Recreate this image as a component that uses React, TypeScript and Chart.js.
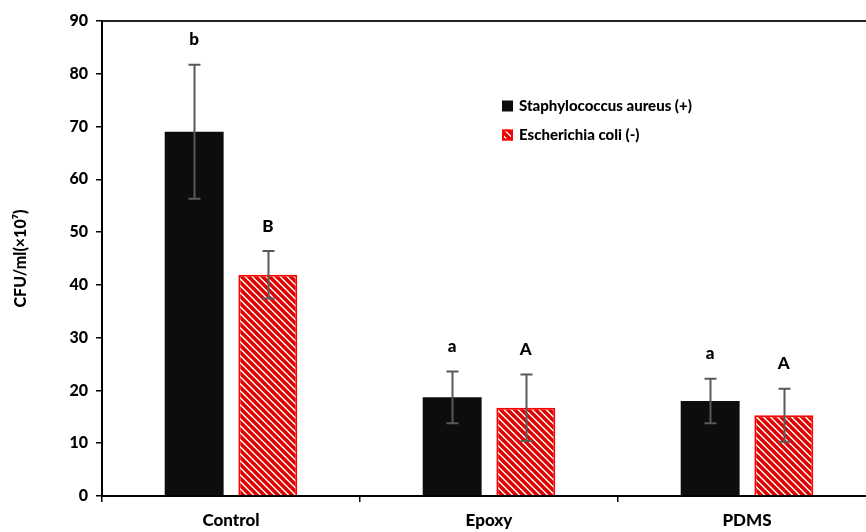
import React, { useEffect, useRef } from "react";
import { Chart, registerables } from "chart.js";

Chart.register(...registerables);

const categories = ["Control", "Epoxy", "PDMS"];
const seriesNames = ["Staphylococcus aureus (+)", "Escherichia coli (-)"];
const staphValues = [69.0, 18.7, 18.0];
const staphErrors = [12.7, 4.9, 4.2];
const coliValues = [41.9, 16.7, 15.3];
const coliErrors = [4.5, 6.3, 5.0];
const staphLetters = ["b", "a", "a"];
const coliLetters = ["B", "A", "A"];
const yMin = 0;
const yMax = 90;
const yStep = 10;
const yTitle = "CFU/ml(×10⁷)";

const FONT = "Lato, 'Open Sans', sans-serif";
const WEIGHT = "900";
const BLACK = "#0d0d0d";
const RED = "#ff0000";

function makeHatch(ctx: CanvasRenderingContext2D): CanvasPattern | string {
  const s = 7;
  const c = document.createElement("canvas");
  c.width = s;
  c.height = s;
  const g = c.getContext("2d");
  if (!g) return RED;
  g.fillStyle = "#ffffff";
  g.fillRect(0, 0, s, s);
  g.strokeStyle = "#e00000";
  g.lineWidth = 3.6;
  g.beginPath();
  for (let k = -1; k <= 1; k++) {
    g.moveTo(k * s - 1, -1);
    g.lineTo(k * s + s + 1, s + 1);
  }
  g.stroke();
  return ctx.createPattern(c, "repeat") || RED;
}

export default function App() {
  const ref = useRef<HTMLCanvasElement | null>(null);

  useEffect(() => {
    const canvas = ref.current;
    if (!canvas) return;
    const ctx = canvas.getContext("2d");
    if (!ctx) return;
    const hatch = makeHatch(ctx);
    const errors = [staphErrors, coliErrors];
    const letters = [staphLetters, coliLetters];

    const extras = {
      id: "extras",
      afterDatasetsDraw(chart: any) {
        const c = chart.ctx as CanvasRenderingContext2D;
        const ys = chart.scales.y;
        const area = chart.chartArea;
        c.save();
        // top border
        c.strokeStyle = "#222";
        c.lineWidth = 2;
        c.beginPath();
        c.moveTo(area.left, area.top);
        c.lineTo(area.right, area.top);
        c.stroke();
        chart.data.datasets.forEach((ds: any, di: number) => {
          const meta = chart.getDatasetMeta(di);
          meta.data.forEach((bar: any, i: number) => {
            const v = ds.data[i];
            const e = errors[di][i];
            const yT = ys.getPixelForValue(v + e);
            const yB = ys.getPixelForValue(v - e);
            const x = Math.round(bar.x) + 0.5;
            c.strokeStyle = "#595959";
            c.lineWidth = 2;
            c.beginPath();
            c.moveTo(x, yT);
            c.lineTo(x, yB);
            c.moveTo(x - 6, yT);
            c.lineTo(x + 6, yT);
            c.moveTo(x - 6, yB);
            c.lineTo(x + 6, yB);
            c.stroke();
            c.fillStyle = "#000";
            c.font = `${WEIGHT} 17px ${FONT}`;
            c.textAlign = "center";
            c.textBaseline = "middle";
            c.fillText(letters[di][i], bar.x, yT - 25);
          });
        });
        // legend
        const lx = area.left + 400;
        const ly = area.top + 85;
        const rowGap = 29;
        const box = 11;
        c.font = `${WEIGHT} 15px ${FONT}`;
        c.textAlign = "left";
        c.textBaseline = "middle";
        seriesNames.forEach((name, k) => {
          const yy = ly + k * rowGap;
          if (k === 0) {
            c.fillStyle = BLACK;
            c.fillRect(lx, yy - box / 2, box, box);
          } else {
            c.fillStyle = hatch as any;
            c.fillRect(lx, yy - box / 2, box, box);
            c.strokeStyle = RED;
            c.lineWidth = 2;
            c.strokeRect(lx + 1, yy - box / 2 + 1, box - 2, box - 2);
          }
          c.fillStyle = "#000";
          c.fillText(name, lx + box + 6, yy);
        });
        c.restore();
      },
    };

    const chart = new Chart(canvas, {
      type: "bar",
      data: {
        labels: categories,
        datasets: [
          {
            label: seriesNames[0],
            data: staphValues,
            backgroundColor: BLACK,
            borderWidth: 0,
            categoryPercentage: 0.571,
            barPercentage: 0.8,
          },
          {
            label: seriesNames[1],
            data: coliValues,
            backgroundColor: hatch as any,
            borderColor: RED,
            borderWidth: 2,
            categoryPercentage: 0.571,
            barPercentage: 0.8,
          },
        ],
      },
      options: {
        animation: false,
        responsive: false,
        devicePixelRatio: 1,
        layout: { padding: { top: 21, right: 0, left: 0, bottom: 0 } },
        plugins: {
          legend: { display: false },
          tooltip: { enabled: false },
        },
        scales: {
          x: {
            type: "category",
            offset: true,
            grid: {
              display: true,
              offset: true,
              drawOnChartArea: false,
              drawTicks: true,
              tickLength: 6,
              color: "#000",
              lineWidth: 1.5,
            },
            border: { display: true, color: "#000", width: 2 },
            ticks: {
              color: "#000",
              font: { family: FONT, size: 17, weight: WEIGHT as any },
              padding: 8,
            },
            afterFit(scale: any) {
              scale.height = 36;
            },
          },
          y: {
            min: yMin,
            max: yMax,
            ticks: {
              stepSize: yStep,
              color: "#000",
              font: { family: FONT, size: 16, weight: WEIGHT as any },
              padding: 8,
            },
            grid: {
              display: true,
              drawOnChartArea: false,
              drawTicks: true,
              tickLength: 6,
              color: "#000",
              lineWidth: 1.5,
            },
            border: { display: true, color: "#000", width: 2 },
            title: {
              display: true,
              text: yTitle,
              color: "#000",
              font: { family: FONT, size: 16, weight: WEIGHT as any },
              padding: { top: 11, bottom: 0 },
            },
            afterFit(scale: any) {
              scale.width = 102;
            },
          },
        },
      },
      plugins: [extras],
    });

    return () => chart.destroy();
  }, []);

  return (
    <div
      style={{
        position: "fixed",
        left: 0,
        top: 0,
        width: 866,
        height: 532,
        overflow: "hidden",
        background: "#fff",
      }}
    >
      <canvas ref={ref} width={876} height={532} style={{ display: "block", width: 876, height: 532 }} />
    </div>
  );
}
